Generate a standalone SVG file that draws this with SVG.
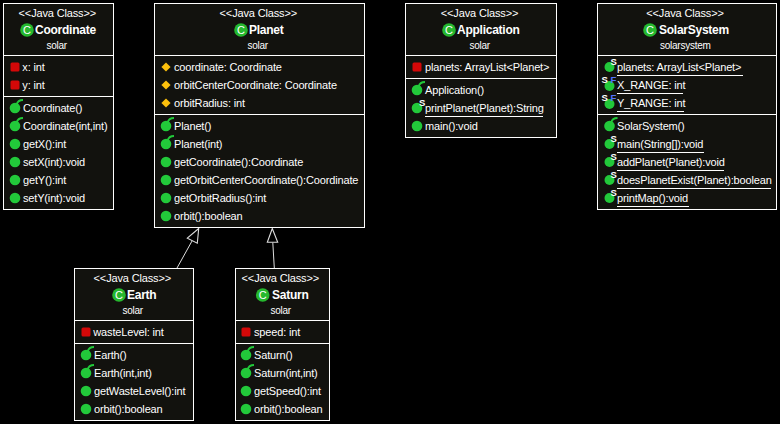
<svg xmlns="http://www.w3.org/2000/svg" width="780" height="424" viewBox="0 0 780 424">
<style>
text{font-family:"Liberation Sans",Arial,sans-serif;fill:#fff;font-size:11px;letter-spacing:-.16px}
.box{fill:#12120e;stroke:#fff;stroke-width:1}
.div,.ul{stroke:#fff;stroke-width:1;fill:none}
.st{font-size:11px;letter-spacing:-.15px;text-anchor:middle}
.nm{font-size:12px;font-weight:bold;letter-spacing:-.25px}
.pk{font-size:10px;letter-spacing:-.25px;text-anchor:middle}
.c{font-size:11px;letter-spacing:0;text-anchor:middle}
.s{font-size:9.500px;font-weight:bold;letter-spacing:0}
.f{font-size:9.500px;font-weight:bold;letter-spacing:0;fill:#5474ff}
.conn{stroke:#ddd;stroke-width:1;fill:none}
.head{fill:#000;stroke:#ddd;stroke-width:1.100}
</style>
<defs>
<circle id="cls" r="6.800" fill="#25b82e"/>
<rect id="priv" x="-4.500" y="-4.500" width="9" height="9" rx="1.500" fill="#d40808"/>
<path id="prot" d="M0-4.600L4.600 0L0 4.600L-4.600 0Z" fill="#fcc00c"/>
<circle id="pub" r="5.300" fill="#22c93a"/>
<circle id="stat" r="5" fill="#22c93a"/>
<g id="ctor"><circle r="5.300" fill="#22c93a"/><path d="M1.700-3.500Q2.800-8 8-8" fill="none" stroke="#22c93a" stroke-width="2"/></g>
</defs>
<rect width="780" height="424" fill="#000"/>
<g id="connectors">
<path class="conn" d="M177 268L192.300 240.500"/>
<path class="head" d="M198.700 228.500L187.300 238.200L197.300 243.200Z"/>
<path class="conn" d="M274.300 268L272.800 242.500"/>
<path class="head" d="M272.300 228.500L267.300 242.300L277.700 242.300Z"/>
</g>
<g id="coordinate">
<rect class="box" x="3.500" y="3.500" width="110" height="206"/>
<path class="div" d="M4 55.500H113M4 96.500H113"/>
<text class="st" x="57.300" y="17">&lt;&lt;Java Class&gt;&gt;</text>
<use href="#cls" x="27" y="30"/><text class="c" x="27" y="34">C</text>
<text class="nm" x="35" y="34">Coordinate</text>
<text class="pk" x="56.700" y="49">solar</text>
<use href="#priv" x="15" y="67"/><text x="22.300" y="71">x: int</text>
<use href="#priv" x="15" y="85"/><text x="22.300" y="89">y: int</text>
<use href="#ctor" x="15" y="108"/><text x="23" y="112">Coordinate()</text>
<use href="#ctor" x="15" y="126"/><text x="23" y="130">Coordinate(int,int)</text>
<use href="#pub" x="15" y="144"/><text x="23" y="148">getX():int</text>
<use href="#pub" x="15" y="162"/><text x="23" y="166">setX(int):void</text>
<use href="#pub" x="15" y="180"/><text x="23" y="184">getY():int</text>
<use href="#pub" x="15" y="198"/><text x="23" y="202">setY(int):void</text>
</g>
<g id="planet">
<rect class="box" x="154.500" y="3.500" width="210" height="224"/>
<path class="div" d="M155 55.500H364M155 114.500H364"/>
<text class="st" x="258.300" y="17">&lt;&lt;Java Class&gt;&gt;</text>
<use href="#cls" x="241" y="30"/><text class="c" x="241" y="34">C</text>
<text class="nm" x="249" y="34">Planet</text>
<text class="pk" x="257.700" y="49">solar</text>
<use href="#prot" x="166" y="67"/><text x="174" y="71">coordinate: Coordinate</text>
<use href="#prot" x="166" y="85"/><text x="174" y="89">orbitCenterCoordinate: Coordinate</text>
<use href="#prot" x="166" y="103"/><text x="174" y="107">orbitRadius: int</text>
<use href="#ctor" x="166" y="126"/><text x="174" y="130">Planet()</text>
<use href="#ctor" x="166" y="144"/><text x="174" y="148">Planet(int)</text>
<use href="#pub" x="166" y="162"/><text x="174" y="166">getCoordinate():Coordinate</text>
<use href="#pub" x="166" y="180"/><text x="174" y="184">getOrbitCenterCoordinate():Coordinate</text>
<use href="#pub" x="166" y="198"/><text x="174" y="202">getOrbitRadius():int</text>
<use href="#pub" x="166" y="216"/><text x="174" y="220">orbit():boolean</text>
</g>
<g id="application">
<rect class="box" x="405.500" y="3.500" width="151" height="134"/>
<path class="div" d="M406 55.500H556M406 78.500H556"/>
<text class="st" x="479.500" y="17">&lt;&lt;Java Class&gt;&gt;</text>
<use href="#cls" x="449" y="30"/><text class="c" x="449" y="34">C</text>
<text class="nm" x="457" y="34">Application</text>
<text class="pk" x="479.700" y="49">solar</text>
<use href="#priv" x="417" y="67"/><text x="425" y="71">planets: ArrayList&lt;Planet&gt;</text>
<use href="#ctor" x="417" y="90"/><text x="425" y="94">Application()</text>
<use href="#pub" x="417" y="108"/><text class="s" x="419" y="106">S</text><text x="425" y="112">printPlanet(Planet):String</text><path class="ul" d="M425 116.500H543"/>
<use href="#pub" x="417" y="126"/><text x="425" y="130">main():void</text>
</g>
<g id="solarsystem">
<rect class="box" x="597.500" y="3.500" width="179" height="206"/>
<path class="div" d="M598 55.500H776M598 114.500H776"/>
<text class="st" x="685" y="17">&lt;&lt;Java Class&gt;&gt;</text>
<use href="#cls" x="650" y="30"/><text class="c" x="650" y="34">C</text>
<text class="nm" x="659" y="34">SolarSystem</text>
<text class="pk" x="685.300" y="49">solarsystem</text>
<use href="#stat" x="609.500" y="67"/><text class="s" x="610.500" y="65">S</text><text x="617" y="71">planets: ArrayList&lt;Planet&gt;</text><path class="ul" d="M617 75.500H743"/>
<use href="#stat" x="609.500" y="86"/><text class="s" x="601.500" y="83">S</text><text class="f" x="610.500" y="82.500">F</text><text x="617" y="89">X_RANGE: int</text><path class="ul" d="M617 93.500H683"/>
<use href="#stat" x="609.500" y="104"/><text class="s" x="601.500" y="101">S</text><text class="f" x="610.500" y="100.500">F</text><text x="617" y="107">Y_RANGE: int</text><path class="ul" d="M617 111.500H684"/>
<use href="#ctor" x="609.500" y="126"/><text x="617" y="130">SolarSystem()</text>
<use href="#stat" x="609.500" y="144"/><text class="s" x="610.500" y="142">S</text><text x="617" y="148">main(String[]):void</text><path class="ul" d="M617 152.500H704"/>
<use href="#stat" x="609.500" y="162"/><text class="s" x="610.500" y="160">S</text><text x="617" y="166">addPlanet(Planet):void</text><path class="ul" d="M617 170.500H724"/>
<use href="#stat" x="609.500" y="180"/><text class="s" x="610.500" y="178">S</text><text x="617" y="184">doesPlanetExist(Planet):boolean</text><path class="ul" d="M617 188.500H771"/>
<use href="#stat" x="609.500" y="198"/><text class="s" x="610.500" y="196">S</text><text x="617" y="202">printMap():void</text><path class="ul" d="M617 206.500H689"/>
</g>
<g id="earth">
<rect class="box" x="74.500" y="268.500" width="119" height="152"/>
<path class="div" d="M75 320.500H193M75 343.500H193"/>
<text class="st" x="132.300" y="282">&lt;&lt;Java Class&gt;&gt;</text>
<use href="#cls" x="119" y="295"/><text class="c" x="119" y="299">C</text>
<text class="nm" x="127" y="299">Earth</text>
<text class="pk" x="132.700" y="314">solar</text>
<use href="#priv" x="86" y="332"/><text x="93.300" y="336">wasteLevel: int</text>
<use href="#ctor" x="86" y="355"/><text x="94" y="359">Earth()</text>
<use href="#ctor" x="86" y="373"/><text x="94" y="377">Earth(int,int)</text>
<use href="#pub" x="86" y="391"/><text x="94" y="395">getWasteLevel():int</text>
<use href="#pub" x="86" y="409"/><text x="94" y="413">orbit():boolean</text>
</g>
<g id="saturn">
<rect class="box" x="235.500" y="268.500" width="94" height="152"/>
<path class="div" d="M236 320.500H329M236 343.500H329"/>
<text class="st" x="280.300" y="282">&lt;&lt;Java Class&gt;&gt;</text>
<use href="#cls" x="262.700" y="295"/><text class="c" x="262.700" y="299">C</text>
<text class="nm" x="272" y="299">Saturn</text>
<text class="pk" x="280.700" y="314">solar</text>
<use href="#priv" x="246" y="332"/><text x="254" y="336">speed: int</text>
<use href="#ctor" x="246" y="355"/><text x="254" y="359">Saturn()</text>
<use href="#ctor" x="246" y="373"/><text x="254" y="377">Saturn(int,int)</text>
<use href="#pub" x="246" y="391"/><text x="254" y="395">getSpeed():int</text>
<use href="#pub" x="246" y="409"/><text x="254" y="413">orbit():boolean</text>
</g>
</svg>
